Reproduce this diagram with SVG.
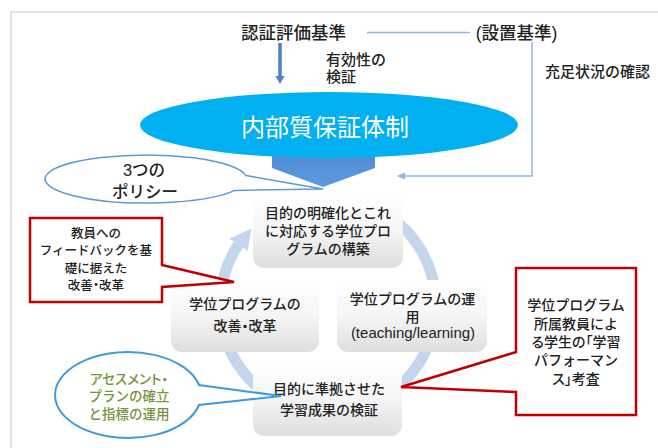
<svg xmlns="http://www.w3.org/2000/svg" width="658" height="448" viewBox="0 0 658 448">
<style>
text{font-family:"Liberation Sans","Noto Sans CJK JP",sans-serif;fill:#222;text-anchor:middle;font-weight:500}
.s{text-anchor:start}
.lat{font-weight:400}
.p{font-feature-settings:"palt" 1}
.box{fill:url(#g);stroke:none}
.ring{fill:none;stroke:#c4d6ee;stroke-width:11}
.red{fill:#fff;stroke:#c00000;stroke-width:2.5;stroke-linejoin:miter}
.lb{fill:none;stroke:#8eb4e3;stroke-width:1.5}
</style>
<defs>
<linearGradient id="g" x1="0" y1="0" x2="0" y2="1">
<stop offset="0" stop-color="#ffffff"/>
<stop offset="0.5" stop-color="#f5f5f5"/>
<stop offset="1" stop-color="#dedede"/>
</linearGradient>
<linearGradient id="pg" x1="0" y1="0" x2="0" y2="1">
<stop offset="0" stop-color="#4f8ad2"/>
<stop offset="1" stop-color="#5c9ade"/>
</linearGradient>
</defs>
<rect x="0" y="0" width="658" height="448" fill="#fff"/>
<rect x="11" y="12" width="700" height="500" fill="#fff" stroke="#d9d9d9" stroke-width="1.5"/>

<g id="connectors">
<line class="lb" x1="367" y1="32.5" x2="470" y2="32.5"/>
<polyline class="lb" points="532,42 532,176 403,176"/>
<polygon points="397,176 405,172.5 405,179.5" fill="#8eb4e3"/>
<line x1="280" y1="43" x2="280" y2="77" stroke="#4f81bd" stroke-width="3.5"/>
<polygon points="275.5,76 284.5,76 280,84" fill="#4f81bd"/>
<polygon id="down-arrow" points="272,150 375,150 375,168 323,187 272,168" fill="url(#pg)"/>
<path class="ring" d="M221.1,290 A108,108 0 0 1 238.5,244.6"/>
<polygon points="247.6,250.8 229.3,238.5 251.6,228.6" fill="#c4d6ee"/>
<path class="ring" d="M390,216.5 A108,108 0 0 1 434.9,290"/>
<path class="ring" d="M433.6,327.5 A108,108 0 0 1 390,393.5"/>
<path class="ring" d="M266,393.5 A108,108 0 0 1 222.4,327.5"/>
</g>

<g id="ninsho">
<text x="293.5" y="38.5" font-size="17.5">認証評価基準</text>
</g>
<g id="setchi">
<text x="516.5" y="38.5" font-size="17.5">(設置基準)</text>
</g>
<g id="label-yuko">
<text class="s" x="326" y="64.7" font-size="15">有効性の<tspan x="326" dy="17.5">検証</tspan></text>
</g>
<g id="label-jusoku">
<text class="s" x="545" y="76.7" font-size="15">充足状況の確認</text>
</g>

<g id="naibu">
<ellipse cx="329" cy="125" rx="189" ry="33" fill="#00b0f0"/>
<text x="325" y="136" font-size="24" style="fill:#fff;font-weight:400">内部質保証体制</text>
</g>

<g id="policy">
<path d="M246,175.6 A101,24 0 1 0 235,190.4 L323,189 Z" fill="#fff" stroke="#5b9bd5" stroke-width="1.5"/>
<text x="144" y="176" font-size="16.5">3つの<tspan x="145" dy="21.8">ポリシー</tspan></text>
</g>

<g id="node-top">
<rect class="box" x="253" y="194" width="150" height="74" rx="11"/>
<text x="328" y="218.3" font-size="14">目的の明確化とこれ<tspan x="328" dy="18">に対応する学位プロ</tspan><tspan x="328" dy="18">グラムの構築</tspan></text>
</g>
<g id="node-left">
<rect class="box" x="171" y="280" width="148" height="72" rx="11"/>
<text x="245" y="309.3" font-size="14">学位プログラムの<tspan class="p" x="245" dy="22">改善・改革</tspan></text>
</g>
<g id="node-right">
<rect class="box" x="337" y="280" width="150" height="72" rx="11"/>
<text x="412.5" y="304.3" font-size="14">学位プログラムの運<tspan x="412.5" dy="17.5">用</tspan><tspan class="lat" x="413" dy="15.7" font-size="15">(teaching/learning)</tspan></text>
</g>
<g id="node-bottom">
<rect class="box" x="253" y="362" width="149" height="74" rx="11"/>
<text x="329" y="393.6" font-size="14">目的に準拠させた<tspan x="329" dy="21.7">学習成果の検証</tspan></text>
</g>

<g id="callout-feedback">
<path class="red" d="M30,218 H162 V265 L234,282 L162,287 V302 H30 Z"/>
<text x="96" y="238" font-size="12.5">教員への<tspan x="96" dy="17.25">フィードバックを基</tspan><tspan x="96" dy="17.25">礎に据えた</tspan><tspan class="p" x="96" dy="17.25">改善・改革</tspan></text>
</g>

<g id="callout-assessment">
<path d="M199,385 A73,43 0 1 0 199,405 L281,396 Z" fill="#fff" stroke="#3c9be0" stroke-width="2"/>
<text x="129" y="383.5" font-size="13.5" style="fill:#77933c"><tspan class="p">アセスメント・</tspan><tspan x="129" dy="17.5">プランの確立</tspan><tspan x="129" dy="17.5">と指標の運用</tspan></text>
</g>

<g id="callout-performance">
<path class="red" d="M516,268 H636 V415 H516 V392 L401,387 L516,352 Z"/>
<text x="576" y="310.3" font-size="14">学位プログラム<tspan x="576" dy="18.3">所属教員によ</tspan><tspan class="p" x="576" dy="18.3">る学生の「学習</tspan><tspan x="576" dy="18.3">パフォーマン</tspan><tspan class="p" x="576" dy="18.3">ス」考査</tspan></text>
</g>
</svg>
